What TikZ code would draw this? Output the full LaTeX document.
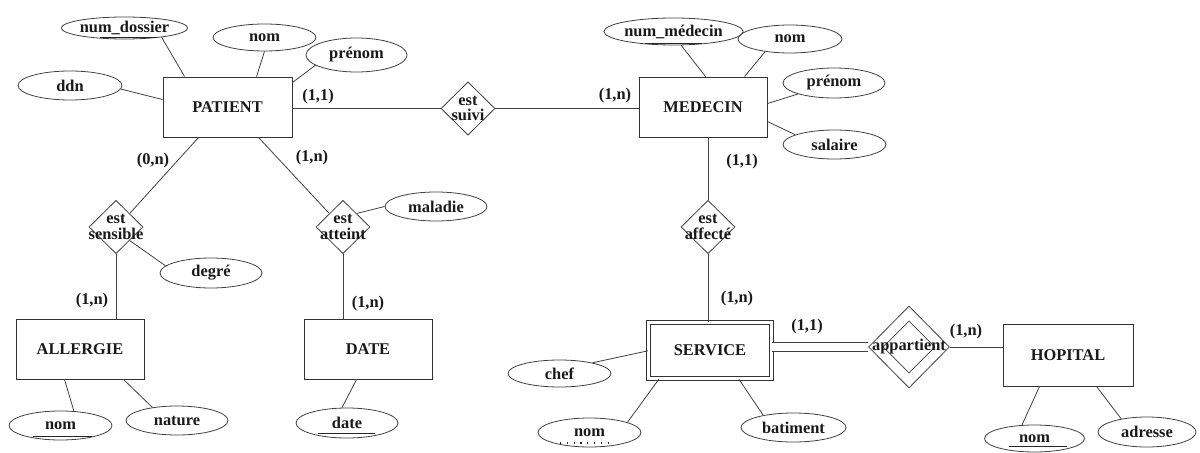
\documentclass[tikz,border=0pt]{standalone}
\usepackage{fontspec}
\setmainfont{Liberation Serif}
\usetikzlibrary{shapes.geometric,calc}
\begin{document}
\begin{tikzpicture}[x=0.75pt,y=-0.75pt,
  every node/.style={font=\fontsize{12.3}{11.5}\selectfont\bfseries, text=black!90},
  conn/.style={draw=black!75, line width=0.6pt},
  entity/.style={draw=black!80, line width=0.7pt, rectangle, minimum width=96pt, minimum height=45pt, inner sep=0pt},
  attr/.style={draw=black!75, line width=0.6pt, ellipse, minimum width=77.25pt, minimum height=21.75pt, inner sep=0pt},
  rel/.style={draw=black!75, line width=0.6pt, diamond, minimum width=40.5pt, minimum height=40pt, inner sep=0pt},
  reltext/.style={align=center, inner sep=0pt},
  card/.style={inner sep=0pt},
  keyline/.style={draw=black!85, line width=0.7pt},
]
\useasboundingbox (0,0) rectangle (1200,453);

% ---------- entities ----------
\node[entity, minimum width=96.75pt] (patient) at (227.5,107) {PATIENT};
\node[entity] (medecin) at (703,107) {MEDECIN};
\node[entity] (allergie) at (80,349) {ALLERGIE};
\node[entity] (date) at (368,349) {DATE};
\node[entity, double, double distance=2.2pt, minimum width=92.5pt, minimum height=42.3pt] (service) at (710,350.5) {SERVICE};
\node[entity, minimum width=97.5pt, minimum height=46.5pt] (hopital) at (1068,355) {HOPITAL};

% ---------- relationships ----------
\node[rel, label={[reltext]center:{est\\suivi}}] (suivi) at (468,108.5) {};
\node[rel, label={[reltext]center:{est\\sensible}}] (sensible) at (116,227) {};
\node[rel, label={[reltext]center:{est\\atteint}}] (atteint) at (343,227) {};
\node[rel, label={[reltext]center:{est\\affecté}}] (affecte) at (708,227) {};
\node[rel, minimum width=39pt, minimum height=39pt] (appin) at (909,347) {};
\node[rel, minimum width=60.75pt, minimum height=61.5pt, label={[reltext]center:{appartient}}] (app) at (909,347) {};

% ---------- attributes ----------
\node[attr, minimum height=16.5pt] (numdossier) at (124.5,28) {num\_dossier};
\node[attr, minimum height=20.25pt] (nomp) at (264.5,37.5) {nom};
\node[attr, minimum width=75.75pt, minimum height=25.5pt] (prenomp) at (356.5,55) {prénom};
\node[attr, minimum width=78pt] (ddn) at (70,85.5) {ddn};
\node[attr, minimum height=20.25pt] (nummedecin) at (673.5,31.5) {num\_médecin};
\node[attr, minimum width=78pt, minimum height=21pt] (nomm) at (790,39) {nom};
\node[attr, minimum width=76.5pt, minimum height=22.5pt] (prenomm) at (834,83) {prénom};
\node[attr] (salaire) at (834.5,144.5) {salaire};
\node[attr, minimum width=76.5pt] (maladie) at (436,206.5) {maladie};
\node[attr, minimum width=76.5pt, minimum height=22.5pt] (degre) at (211,273) {degré};
\node[attr] (noma) at (60.5,425.5) {nom};
\node[attr, minimum width=76.5pt] (nature) at (177,420.5) {nature};
\node[attr, minimum width=76.5pt, minimum height=22.5pt] (dateattr) at (347,423) {date};
\node[attr, minimum height=20.25pt] (chef) at (559.5,373.5) {chef};
\node[attr] (noms) at (589.5,432.5) {nom};
\node[attr, minimum width=78.75pt] (batiment) at (793.5,427.5) {batiment};
\node[attr, minimum width=75pt, minimum height=20.25pt] (nomh) at (1034.5,438.5) {nom};
\node[attr, minimum width=73.5pt, minimum height=22.5pt] (adresse) at (1147,432) {adresse};

% ---------- identifier underlines ----------
\draw[keyline] ($(numdossier)+(-24.5,9.7)$) -- ($(numdossier)+(32.5,9.7)$);
\draw[keyline] ($(nummedecin)+(-28.5,11.5)$) -- ($(nummedecin)+(28.5,11.5)$);
\draw[keyline] ($(noma)+(-27.5,10.5)$) -- ($(noma)+(31.5,10.5)$);
\draw[keyline] ($(dateattr)+(-29,10)$) -- ($(dateattr)+(28,10)$);
\draw[keyline, line width=0.9pt, dash pattern=on 0.9pt off 4.2pt] ($(noms)+(-29.5,10.5)$) -- ($(noms)+(24.5,10.5)$);
\draw[keyline] ($(nomh)+(-25.5,7.5)$) -- ($(nomh)+(32.5,7.5)$);

% ---------- attribute links ----------
\draw[conn] (numdossier.-14) -- ($(patient.north west)+(22,0)$);
\draw[conn] (nomp.-90) -- ($(patient.north west)+(94,0)$);
\draw[conn] (prenomp.194) -- ($(patient.north east)+(0,6)$);
\draw[conn] (ddn.-4) -- ($(patient.north west)+(0,23)$);
\draw[conn] (nummedecin.-61) -- ($(medecin.north west)+(67,0)$);
\draw[conn] (nomm.-153) -- ($(medecin.north west)+(106,0)$);
\draw[conn] (prenomm.197) -- ($(medecin.north east)+(0,27)$);
\draw[conn] (salaire.166) -- ($(medecin.north east)+(0,45)$);
\draw[conn] (maladie.180) -- (atteint.north east);
\draw[conn] (degre.171) -- (sensible.south east);
\draw[conn] (noma.47) -- ($(allergie.south west)+(49,0)$);
\draw[conn] (nature.152) -- ($(allergie.south west)+(108,0)$);
\draw[conn] (dateattr.108) -- ($(date.south west)+(53,0)$);
\draw[conn] (chef.18) -- ($(service.north west)+(0,29)$);
\draw[conn] (noms.15) -- ($(service.south west)+(11,0)$);
\draw[conn] (batiment.158) -- ($(service.south west)+(91,0)$);
\draw[conn] (nomh.133) -- ($(hopital.south west)+(37,0)$);
\draw[conn] (adresse.153) -- ($(hopital.south west)+(94,0)$);

% ---------- relationship links ----------
\draw[conn] (suivi.west) -- (suivi.west -| patient.east);
\draw[conn] (suivi.east) -- (suivi.east -| medecin.west);
\draw[conn] ($(patient.south west)+(36,0)$) -- (sensible.north east);
\draw[conn] ($(patient.south west)+(96,0)$) -- (atteint.north west);
\draw[conn] (sensible.south) -- (sensible.south |- allergie.north);
\draw[conn] (atteint.south) -- (atteint.south |- date.north);
\draw[conn] (affecte.north) -- (affecte.north |- medecin.south);
\draw[conn] (affecte.south) -- (affecte.south |- service.north);
\draw[conn, double, double distance=6.4pt] (app.west -| service.east) -- (app.west);
\draw[conn] (app.east) -- (app.east -| hopital.west);

% ---------- cardinalities ----------
\node[card] (c1) at (318,97) {(1,1)};
\node[card] (c2) at (615,96) {(1,n)};
\node[card] (c3) at (153,161) {(0,n)};
\node[card] (c4) at (312,158) {(1,n)};
\node[card] (c5) at (92,301) {(1,n)};
\node[card] (c6) at (368,304) {(1,n)};
\node[card] (c7) at (742,162) {(1,1)};
\node[card] (c8) at (737,299) {(1,n)};
\node[card] (c9) at (807,327) {(1,1)};
\node[card] (c10) at (966,332) {(1,n)};
\end{tikzpicture}
\end{document}
